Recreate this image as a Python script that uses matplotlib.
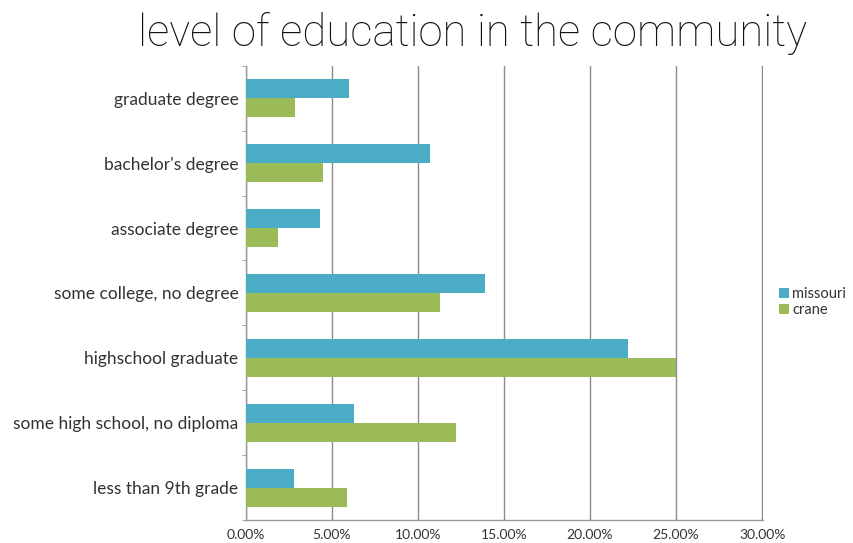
import matplotlib
matplotlib.use("Agg")
import matplotlib.pyplot as plt
import numpy as np
from matplotlib.ticker import FuncFormatter, FixedLocator

categories = ["graduate degree", "bachelor's degree", "associate degree",
              "some college, no degree", "highschool graduate",
              "some high school, no diploma", "less than 9th grade"]
missouri = [6.0, 10.7, 4.3, 13.9, 22.2, 6.3, 2.8]
crane = [2.9, 4.5, 1.9, 11.3, 25.0, 12.2, 5.9]
series_names = ["missouri", "crane"]
xticks = [0, 5, 10, 15, 20, 25, 30]

plt.rcParams['font.family'] = ['Lato', 'DejaVu Sans']

fig = plt.figure(figsize=(8.54, 5.43), dpi=100)
ax = fig.add_axes([0.2875, 0.042, 0.606, 0.837])

n = len(categories)
y = np.arange(n)
h = 0.29
blue = "#4BACC6"
green = "#9BBB59"
ax.barh(y - h / 2, missouri, height=h, color=blue, label=series_names[0], zorder=3)
ax.barh(y + h / 2, crane, height=h, color=green, label=series_names[1], zorder=3)

ax.set_ylim(n - 0.5, -0.5)
ax.set_xlim(0, 30.05)
ax.set_yticks(y)
ax.set_yticklabels(categories, fontsize=12.5, color="#333333")
ax.yaxis.set_minor_locator(FixedLocator(np.arange(-0.5, n, 1)))
ax.tick_params(axis='y', which='major', length=0, pad=5)
ax.tick_params(axis='y', which='minor', length=3, color="#999999")
ax.set_xticks(xticks)
ax.xaxis.set_major_formatter(FuncFormatter(lambda v, p: f"{v:.2f}%"))
ax.tick_params(axis='x', length=0, labelsize=10, labelcolor="#333333", pad=6)
ax.grid(axis='x', color="#8c8c8c", linewidth=1, zorder=0)
for s in ["top", "right"]:
    ax.spines[s].set_visible(False)
for s in ["left", "bottom"]:
    ax.spines[s].set_color("#999999")
    ax.spines[s].set_linewidth(1)

leg = ax.legend(loc="center left", bbox_to_anchor=(1.02, 0.48), frameon=False,
                fontsize=10.5, handlelength=0.7, handleheight=0.7,
                handletextpad=0.2, labelspacing=0.1, borderaxespad=0)
for t in leg.get_texts():
    t.set_color("#333333")

fig.text(0.553, 0.938, "level of education in the community", ha="center",
         va="center", fontsize=31.5, fontweight="light", color="#111111",
         family=["Roboto", "DejaVu Sans"])

fig.savefig("out.png", dpi=100)
